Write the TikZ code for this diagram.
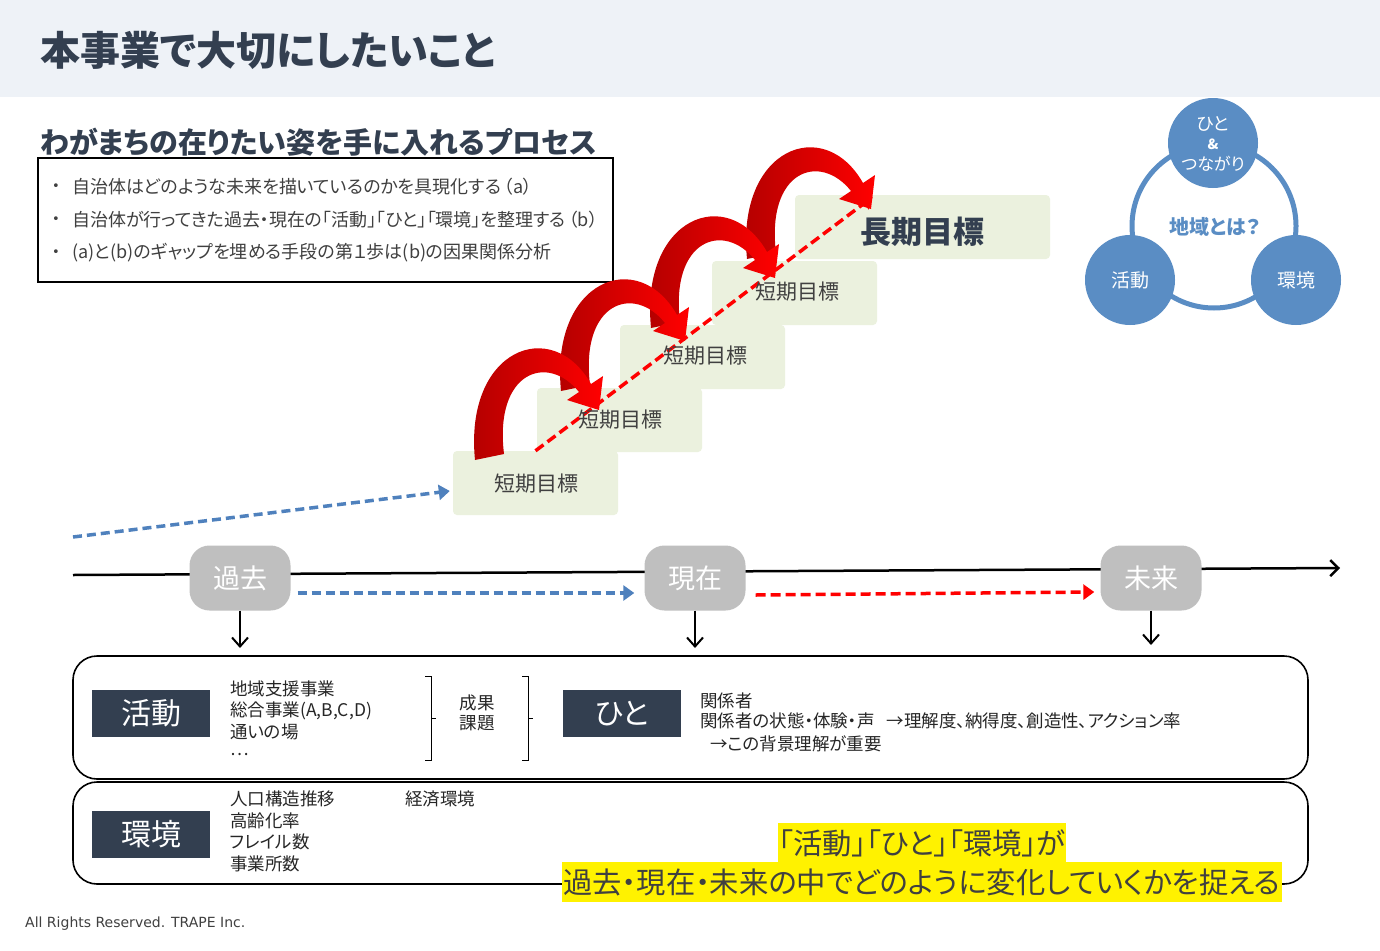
\documentclass[tikz,border=0pt]{standalone}
\usepackage{fontspec}
\setmainfont{Noto Sans CJK JP}[RawFeature=+palt]
\newfontfamily\footfont{DejaVu Sans}
\usetikzlibrary{arrows.meta,calc}
\newcommand\fsz[1]{\fontsize{#1}{#1}\selectfont}
\definecolor{headerbg}{HTML}{EEF2F7}
\definecolor{navy}{HTML}{333F50}
\definecolor{txt}{HTML}{404040}
\definecolor{itemtxt}{HTML}{262626}
\definecolor{stepgreen}{HTML}{EBF1DE}
\definecolor{hopred}{HTML}{FF0000}
\definecolor{hopdark}{HTML}{B00000}
\definecolor{arrowblue}{HTML}{4F81BD}
\definecolor{tgray}{HTML}{BFBFBF}
\definecolor{cblue}{HTML}{5A8DC4}
\tikzset{
  hop/.pic={
    \shade[left color=hopdark, middle color=hopred, right color=hopred]
      (-15,3) .. controls (-26,-108) and (62,-142) .. (101,-73)
      -- (113,-81) -- (109,-47) -- (77,-57) -- (89,-65)
      .. controls (58,-104) and (4,-86) .. (14,-3) -- cycle;
  }
}
\begin{document}
\begin{tikzpicture}[x=1pt,y=-1pt,
  stepbox/.style={fill=stepgreen, rounded corners=4pt, minimum width=165pt, minimum height=64pt, inner sep=0pt, text=txt, font=\fsz{21}},
  tnode/.style={fill=tgray, rounded corners=20pt, minimum width=101pt, minimum height=65pt, text=white, font=\fsz{27}, inner sep=0pt},
  darklab/.style={fill=navy, text=white, minimum width=118pt, minimum height=47pt, font=\fsz{30}, inner sep=0pt},
  item/.style={anchor=west, inner sep=0pt, text=itemtxt, font=\fsz{17.5}},
  bullet/.style={anchor=west, inner sep=0pt, text=txt, font=\fsz{18}},
  bluedash/.style={draw=arrowblue, line width=3.5pt, dash pattern=on 9pt off 5pt, -{Triangle[length=11pt,width=15pt]}},
  reddash/.style={draw=hopred, line width=3.5pt, dash pattern=on 10pt off 5pt, -{Triangle[length=11pt,width=15pt]}},
  downarrow/.style={draw=black, line width=2pt, -{Straight Barb[length=9pt,width=16pt]}},
  bigbox/.style={draw=black, line width=1.6pt, rounded corners=24pt},
  bracket/.style={draw=black, line width=1pt},
  circ/.style={circle, fill=cblue, minimum size=90pt, inner sep=0pt, text=white},
  hilite/.style={fill=yellow, inner xsep=1pt, inner ysep=0pt, minimum height=40pt, text=txt, font=\fsz{29.3}}
]
\useasboundingbox (0,0) rectangle (1380,950);
\fill[white] (0,0) rectangle (1380,950);
% header
\fill[headerbg] (0,0) rectangle (1380,97);
\node[anchor=west, inner sep=0pt, text=navy, font=\fsz{40}\bfseries] (title) at (40,50) {本事業で大切にしたいこと};
\node[anchor=west, inner sep=0pt, text=navy, font=\fsz{29}\bfseries] (subtitle) at (40,142) {わがまちの在りたい姿を手に入れるプロセス};
% bullet box
\draw[black, line width=1.2pt] (38,158) rectangle (613,282);
\foreach \yy in {187,220,253} {\node[bullet, font=\footfont\fsz{13}] at (52,\yy) {•};}
\node[bullet] (b1) at (72,187) {自治体はどのような未来を描いているのかを具現化する\hspace{3pt}（a）};
\node[bullet] (b2) at (72,220) {自治体が行ってきた過去・現在の「活動」「ひと」「環境」を整理する\hspace{3pt}（b）};
\node[bullet] (b3) at (72,253) {(a)と(b)のギャップを埋める手段の第１歩は(b)の因果関係分析};
% stairs
\node[stepbox] (s1) at (535.5,483) {};
\node[stepbox] (s2) at (619.5,420) {};
\node[stepbox] (s3) at (702.5,357) {};
\node[stepbox] (s4) at (794.5,293) {};
\node[stepbox, minimum width=255pt] (lt) at (922.5,227) {};
% red dashed diagonal
\draw[reddash] (s1.north) -- ($(lt.north west)+(78,2)$);
% hop arrows
\pic at (762,256) {hop};
\pic at (666,325) {hop};
\pic at (576,388) {hop};
\pic at (490,457) {hop};
% stair texts
\node[text=txt, font=\fsz{21}] at (536,484) {短期目標};
\node[text=txt, font=\fsz{21}] at (620,420) {短期目標};
\node[text=txt, font=\fsz{21}] at (705,356) {短期目標};
\node[text=txt, font=\fsz{21}] at (797,292) {短期目標};
\node[text=navy, font=\fsz{31}\bfseries] at (922,232) {長期目標};
% blue dashed from left
\coordinate (bstart) at (73,537);
\draw[bluedash] (bstart) -- ($(s1.west)+(-3,8)$);
% region circle diagram
\draw[cblue, line width=5pt] (1214,226) circle[radius=82];
\node[text=cblue, font=\fsz{20}\bfseries] (q) at (1215,227) {地域とは？};
\node[circ] (cp) at (1213,143) {};
\node[text=white, font=\fsz{18}, inner sep=0pt] at (1213,124) {ひと};
\node[text=white, font=\fsz{14}\bfseries, inner sep=0pt] at (1213,144) {\&};
\node[text=white, font=\fsz{17}, inner sep=0pt] at (1213,164) {つながり};
\node[circ, font=\fsz{19}] (ca) at (1130,280) {活動};
\node[circ, font=\fsz{19}] (ce) at (1296,280) {環境};
% timeline
\coordinate (tl0) at (73,575);
\coordinate (tl1) at (1340,568);
\draw[black, line width=2.5pt, -{Straight Barb[length=8pt,width=16pt]}] (tl0) -- (tl1);
\node[tnode] (past) at (240,578) {過去};
\node[tnode] (now) at (695,578) {現在};
\node[tnode] (fut) at (1151,578) {未来};
\draw[bluedash] ($(past.east)+(7,15)$) -- ($(now.west)+(-10,15)$);
\draw[reddash] ($(now.east)+(10,17)$) -- ($(fut.west)+(-6,14)$);
\coordinate (d1) at (240,648);
\coordinate (d2) at (695,648);
\coordinate (d3) at (1151,645);
\draw[downarrow] (past.south) -- (d1);
\draw[downarrow] (now.south) -- (d2);
\draw[downarrow] (fut.south) -- (d3);
% big boxes
\draw[bigbox] (73,656) rectangle (1308,779);
\draw[bigbox] (73,782) rectangle (1308,884);
% activity row
\node[darklab] (act) at (151,713.5) {活動};
\node[item] at (230,689) {地域支援事業};
\node[item] at (230,711) {総合事業(A,B,C,D)};
\node[item] at (230,732) {通いの場};
\node[item] at (230,754) {…};
\draw[bracket] (425,676) -- (431,676) -- (431,760) -- (425,760);
\draw[bracket] (431,718) -- (436,718);
\node[item, anchor=center] at (477,703) {成果};
\node[item, anchor=center] at (477,723) {課題};
\draw[bracket] (522,676) -- (528,676) -- (528,760) -- (522,760);
\draw[bracket] (528,718) -- (533,718);
\node[darklab] (hito) at (622,713.5) {ひと};
\node[item] at (700,701) {関係者};
\node[item] at (700,721) {関係者の状態・体験・声\hspace{12pt}→理解度、納得度、創造性、アクション率};
\node[item] at (710,744) {→この背景理解が重要};
% environment row
\node[darklab] (env) at (151,834.5) {環境};
\node[item] at (230,799) {人口構造推移};
\node[item] at (230,821) {高齢化率};
\node[item] at (230,842) {フレイル数};
\node[item] at (230,864) {事業所数};
\node[item] at (405,799) {経済環境};
% highlight
\node[hilite] (h1) at (922,843) {「活動」「ひと」「環境」が};
\node[hilite] (h2) at (922,882) {過去・現在・未来の中でどのように変化していくかを捉える};
% footer
\node[anchor=west, inner sep=0pt, text=txt, font=\footfont\fsz{14}] at (25,924) {All Rights Reserved. TRAPE Inc.};
\end{tikzpicture}
\end{document}
